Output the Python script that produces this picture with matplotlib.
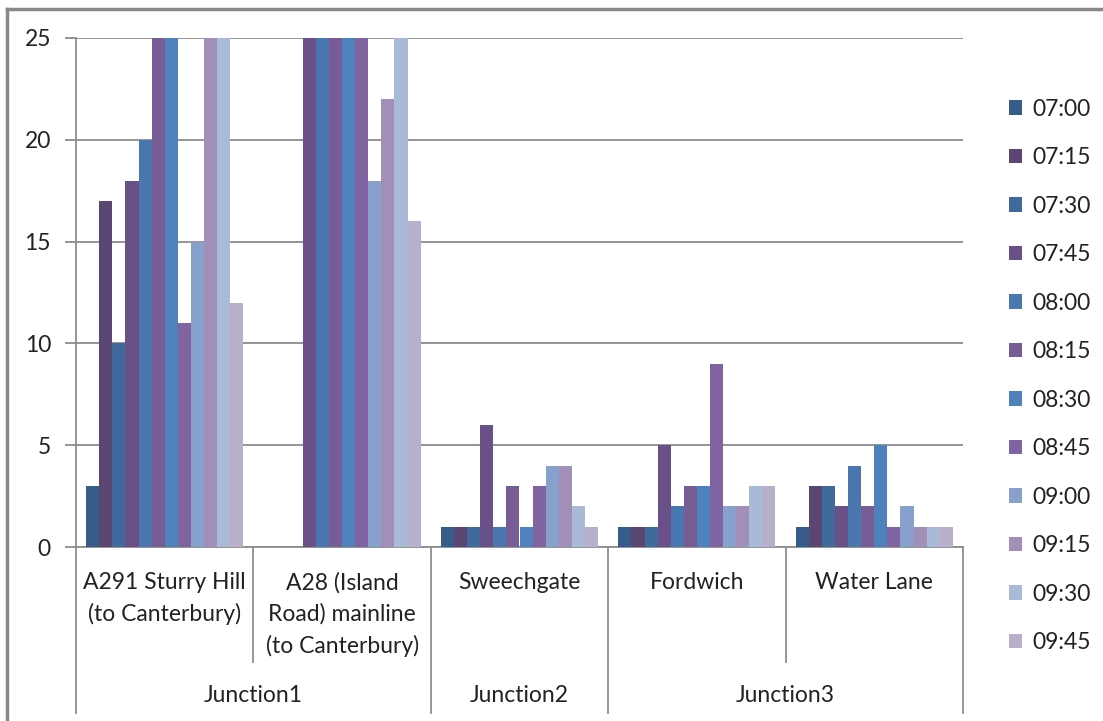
import matplotlib
matplotlib.use("Agg")
import matplotlib.pyplot as plt
import numpy as np
from matplotlib.patches import Patch
import matplotlib.transforms as mtransforms

plt.rcParams['font.family'] = ['Lato', 'DejaVu Sans']

# Traffic counts per site, one series per 15-minute interval
sites = ["A291 Sturry Hill\n(to Canterbury)",
         "A28 (Island\nRoad) mainline\n(to Canterbury)",
         "Sweechgate", "Fordwich", "Water Lane"]
junctions = ["Junction1", "Junction2", "Junction3"]
junction_spans = [(0, 1), (2, 2), (3, 4)]
times = ["07:00", "07:15", "07:30", "07:45", "08:00", "08:15",
         "08:30", "08:45", "09:00", "09:15", "09:30", "09:45"]

a291 = [3, 17, 10, 18, 20, 25, 25, 11, 15, 25, 25, 12]
a28 = [0, 0, 0, 25, 25, 25, 25, 25, 18, 22, 25, 16]
sweechgate = [1, 1, 1, 6, 1, 3, 1, 3, 4, 4, 2, 1]
fordwich = [1, 1, 1, 5, 2, 3, 3, 9, 2, 2, 3, 3]
water_lane = [1, 3, 3, 2, 4, 2, 5, 1, 2, 1, 1, 1]

colors = ["#365c8a", "#5b4573", "#416a9c", "#6a5089", "#4a77b0", "#775c95",
          "#4f81bd", "#8064a2", "#87a1cc", "#a18fb8", "#a9bad9", "#b8afcb"]

W, H = 1103, 721
fig = plt.figure(figsize=(W / 100, H / 100), dpi=100)
L, R, T, B = 76, 963, 38, 547
ax = fig.add_axes([L / W, 1 - B / H, (R - L) / W, (B - T) / H])

data = np.array([a291, a28, sweechgate, fordwich, water_lane])
n = len(times)
group_w = 0.885
bw = group_w / n
x = np.arange(len(sites))
for i, t in enumerate(times):
    ax.bar(x - group_w / 2 + bw * (i + 0.5), data[:, i], width=bw,
           color=colors[i], edgecolor='none', zorder=3, label=t)

grid_c = "#8c8c8c"
txt_c = "#222222"
fs = 16.5
ax.set_xlim(-0.5, len(sites) - 0.5)
ax.set_ylim(0, 25)
ax.set_yticks(range(0, 26, 5))
ax.yaxis.grid(True, color=grid_c, linewidth=1.3, zorder=0)
ax.tick_params(axis='y', length=8, width=1.3, color=grid_c, pad=10,
               labelsize=fs, labelcolor=txt_c)
ax.set_xticks([])
for s in ['top', 'right']:
    ax.spines[s].set_visible(False)
for s in ['left', 'bottom']:
    ax.spines[s].set_color(grid_c)
    ax.spines[s].set_linewidth(1.3)

# Two-level category axis drawn below the plot area
trans = mtransforms.blended_transform_factory(ax.transData, fig.transFigure)
y0 = 1 - B / H
y_inner = 1 - 662 / H
y_outer = 1 - 713 / H
outer_bounds = {-0.5} | {s - 0.5 for s, _ in junction_spans} | {e + 0.5 for _, e in junction_spans}
for b in np.arange(-0.5, len(sites), 1.0):
    y_end = y_outer if any(abs(b - ob) < 1e-6 for ob in outer_bounds) else y_inner
    ax.plot([b, b], [y0, y_end], transform=trans, color=grid_c,
            linewidth=1.3, clip_on=False)

for i, s in enumerate(sites):
    ax.text(i, 1 - 572 / H, s, transform=trans, ha='center', va='top',
            fontsize=fs, color=txt_c, linespacing=1.55)
for name, (s, e) in zip(junctions, junction_spans):
    ax.text((s + e) / 2, 1 - 696 / H, name, transform=trans, ha='center',
            va='center', fontsize=fs, color=txt_c)

# Outer chart frame
fig.add_artist(plt.Line2D([7 / W, 7 / W], [0, 1 - 9 / H], color="#888888",
                          linewidth=2.5, transform=fig.transFigure))
fig.add_artist(plt.Line2D([7 / W, 1], [1 - 9 / H, 1 - 9 / H], color="#888888",
                          linewidth=2.5, transform=fig.transFigure))

handles = [Patch(facecolor=c, edgecolor='none') for c in colors]
fig.legend(handles, times, loc='center left',
           bbox_to_anchor=(988 / W, 1 - 376 / H), frameon=False,
           fontsize=fs, labelspacing=1.2, handlelength=0.6, handleheight=0.6,
           handletextpad=0.45, labelcolor=txt_c)

fig.savefig("out.png", dpi=100)
